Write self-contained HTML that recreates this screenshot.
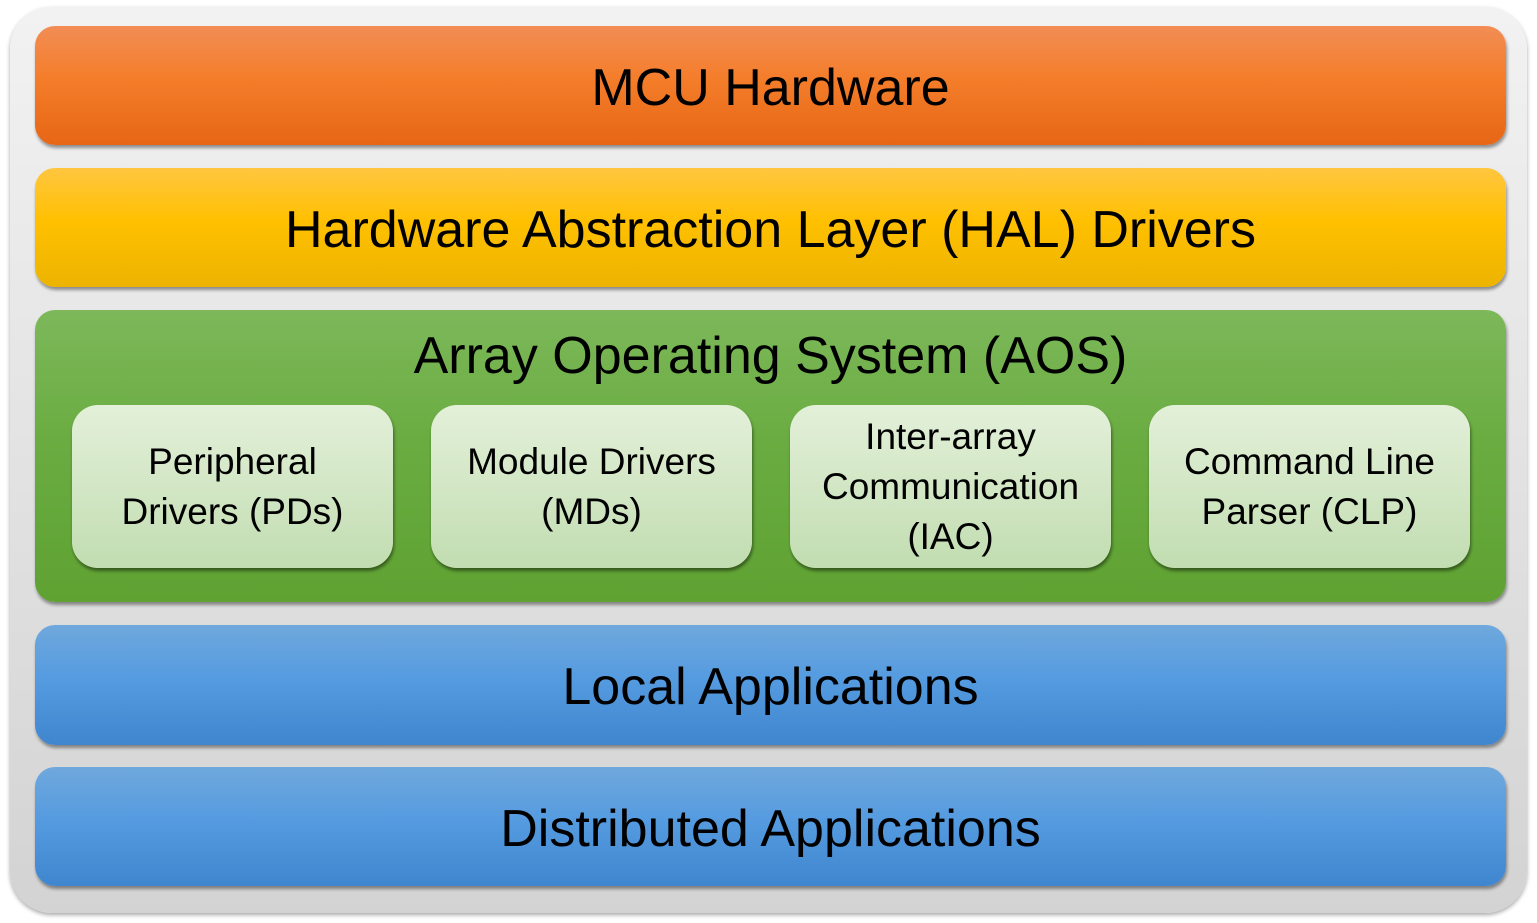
<!DOCTYPE html>
<html><head><style>
html,body{margin:0;padding:0;width:1537px;height:923px;background:#fff;overflow:hidden;font-family:"Liberation Sans",sans-serif;}
.outer{position:absolute;left:10px;top:7px;width:1517px;height:906px;border-radius:42px;background:linear-gradient(#f2f2f2,#d3d3d3);box-shadow:0 2px 4px rgba(0,0,0,.35);}
.bar{position:absolute;left:35px;width:1471px;border-radius:20px;box-shadow:1px 3px 3px rgba(0,0,0,.4);text-align:center;color:#000;font-size:52px;}
.sub{position:absolute;top:405px;width:321px;height:163px;border-radius:26px;background:linear-gradient(#e3f0d9,#c2ddb1);box-shadow:1px 3px 3px rgba(0,0,0,.45);display:flex;align-items:center;justify-content:center;text-align:center;font-size:37px;line-height:50px;}
</style></head><body>
<div class="outer"></div>
<div class="bar" style="top:26px;height:119px;line-height:124px;background:linear-gradient(#f28d55,#f47d2a 45%,#e66615);">MCU Hardware</div>
<div class="bar" style="top:168px;height:119px;line-height:124px;background:linear-gradient(#ffc640,#ffc000 45%,#ecb300);">Hardware Abstraction Layer (HAL) Drivers</div>
<div class="bar" style="top:310px;height:292px;background:linear-gradient(#7db85a,#6aac41 45%,#5fa232);"><div style="line-height:92px;">Array Operating System (AOS)</div></div>
<div class="sub" style="left:72px;">Peripheral<br>Drivers (PDs)</div>
<div class="sub" style="left:431px;">Module Drivers<br>(MDs)</div>
<div class="sub" style="left:790px;">Inter-array<br>Communication<br>(IAC)</div>
<div class="sub" style="left:1149px;">Command Line<br>Parser (CLP)</div>
<div class="bar" style="top:625px;height:120px;line-height:124px;background:linear-gradient(#6fa8dc,#559be0 45%,#3f86cf);">Local Applications</div>
<div class="bar" style="top:767px;height:119px;line-height:124px;background:linear-gradient(#6fa8dc,#559be0 45%,#3f86cf);">Distributed Applications</div>
</body></html>
